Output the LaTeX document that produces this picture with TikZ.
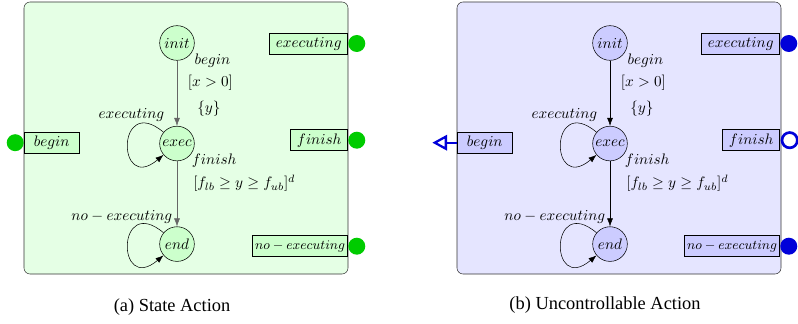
\documentclass[tikz,border=0pt]{standalone}
\usepackage{fix-cm}
\usepackage{fontspec}
\newfontfamily\capfont{Liberation Serif}
\usetikzlibrary{arrows.meta, positioning}
\usepackage{amsmath,amssymb}

\begin{document}
\begin{tikzpicture}[
  x=0.75pt, y=-0.75pt,
  every node/.style={font=\fontsize{11.4}{13.7}\selectfont},
  panel/.style={
    draw=black!80,
    rounded corners=4.5pt,
    minimum width=243pt,
    minimum height=204pt,
    inner sep=0pt
  },
  state/.style={draw, circle, minimum size=26pt, inner sep=0pt},
  port/.style={draw, minimum height=15.75pt, inner xsep=2pt, inner ysep=0pt},
  lbl/.style={inner sep=1pt},
  dot/.style={circle, minimum size=12.75pt, inner sep=0pt},
  ring/.style={circle, draw=blue!85!black, line width=2pt, fill=white, minimum size=11.5pt, inner sep=0pt},
  arr/.style={-{Latex[length=6pt, width=4.4pt]}},
  captext/.style={font=\capfont\fontsize{13.8}{16}\selectfont},
  node distance=49pt
]
\useasboundingbox (0,0) rectangle (798,324);

% (a) State Action
\node[panel, fill=green!10] (panelA) at (186,138) {};

\node[state, fill=green!20] (initA) at (177,43) {$init$};
\node[state, fill=green!20, below=of initA] (execA) {$exec$};
\node[state, fill=green!20, below=of execA] (endA) {$end$};

\node[lbl, above left=6pt and -1pt of execA] (loopExecA) {$executing$};
\node[lbl, above left=5pt and -7pt of endA] (loopEndA) {$no-executing$};

% Ports
\node[port, fill=green!20, anchor=east, minimum width=58.5pt] (execPortA) at (348,43.5) {$executing$};
\node[port, fill=green!20, anchor=east, minimum width=42.75pt] (finishPortA) at (348,140.2) {$finish$};
\node[port, fill=green!20, anchor=east, minimum width=70.5pt, font=\fontsize{9.9}{12}\selectfont] (noexecPortA) at (348,246.2) {$no-executing$};
\node[port, fill=green!20, anchor=west, minimum width=41.25pt] (beginPortA) at (24,142.7) {$begin$};

\node[dot, fill=green!80!black, right=0pt of execPortA] (execDotA) {};
\node[dot, fill=green!80!black, right=0pt of finishPortA] (finishDotA) {};
\node[dot, fill=green!80!black, right=0pt of noexecPortA] (noexecDotA) {};
\node[dot, fill=green!80!black, left=0pt of beginPortA] (beginDotA) {};

% Arrows
\draw[arr, black!60] (initA) -- (execA)
  node[lbl, text=black, pos=0, right, xshift=12pt] {$begin$}
  node[lbl, text=black, pos=.34, right, xshift=7pt] {$[x>0]$}
  node[lbl, text=black, pos=.73, right, xshift=14pt] {$\{y\}$};
\draw[arr, black!60] (execA) -- (endA)
  node[lbl, text=black, pos=0, right, xshift=10pt] {$finish$}
  node[lbl, text=black, pos=.34, right, xshift=11pt] {$[f_{lb}\geq y\geq f_{ub}]^d$};
\draw[arr] (execA) to[out=140, in=220, looseness=7] (execA);
\draw[arr] (endA) to[out=140, in=220, looseness=7] (endA);

\node[captext] (capA) at (172,307) {(a) State Action};

% (b) Uncontrollable Action
\node[panel, fill=blue!10] (panelB) at (619,138) {};

\node[state, fill=blue!20] (initB) at (610,43) {$init$};
\node[state, fill=blue!20, below=of initB] (execB) {$exec$};
\node[state, fill=blue!20, below=of execB] (endB) {$end$};

\node[lbl, above left=6pt and -1pt of execB] (loopExecB) {$executing$};
\node[lbl, above left=5pt and -7pt of endB] (loopEndB) {$no-executing$};

% Ports
\node[port, fill=blue!20, anchor=east, minimum width=58.5pt] (execPortB) at (780,43.5) {$executing$};
\node[port, fill=blue!20, anchor=east, minimum width=42.75pt] (finishPortB) at (780,140.2) {$finish$};
\node[port, fill=blue!20, anchor=east, minimum width=70.5pt, font=\fontsize{9.9}{12}\selectfont] (noexecPortB) at (780,246.2) {$no-executing$};
\node[port, fill=blue!20, anchor=west, minimum width=41.25pt] (beginPortB) at (457,142.7) {$begin$};

\node[dot, fill=blue!85!black, right=0pt of execPortB] (execDotB) {};
\node[ring, right=0.5pt of finishPortB] (finishRingB) {};
\node[dot, fill=blue!85!black, right=0pt of noexecPortB] (noexecDotB) {};
\coordinate[left=18.5pt of beginPortB] (beginTipB);
\draw[blue!85!black, line width=1.7pt, -{Triangle[open, length=11pt, width=11.5pt]}] (beginPortB) -- (beginTipB);

% Arrows
\draw[arr] (initB) -- (execB)
  node[lbl, pos=0, right, xshift=12pt] {$begin$}
  node[lbl, pos=.34, right, xshift=7pt] {$[x>0]$}
  node[lbl, pos=.73, right, xshift=14pt] {$\{y\}$};
\draw[arr] (execB) -- (endB)
  node[lbl, pos=0, right, xshift=10pt] {$finish$}
  node[lbl, pos=.34, right, xshift=11pt] {$[f_{lb}\geq y\geq f_{ub}]^d$};
\draw[arr] (execB) to[out=140, in=220, looseness=7] (execB);
\draw[arr] (endB) to[out=140, in=220, looseness=7] (endB);

\node[captext] (capB) at (605,305) {(b) Uncontrollable Action};

\end{tikzpicture}
\end{document}
